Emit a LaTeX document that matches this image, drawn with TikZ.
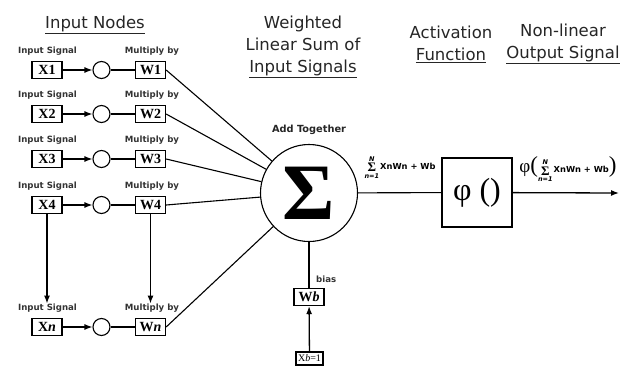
\documentclass[tikz,border=0pt]{standalone}
\usepackage{fontspec}
\setmainfont{Liberation Serif}
\setsansfont{DejaVu Sans}
\usetikzlibrary{positioning,arrows.meta}
\newcommand{\sumst}{{\renewcommand{\arraystretch}{0.6}\begin{tabular}{@{}c@{}}\textit{N}\\[0.6pt]{\rmfamily\bfseries\fontsize{13}{13}\selectfont Σ}\\[0.6pt]\textit{n=1}\end{tabular}}}

\begin{document}
\begin{tikzpicture}[x=1pt, y=-1pt,
  inbox/.style={draw, line width=1.3pt, minimum width=30pt, minimum height=17pt, inner sep=0pt, font=\bfseries\fontsize{14}{14}\selectfont},
  dot/.style={draw, line width=1.1pt, circle, minimum size=17pt, inner sep=0pt},
  lab/.style={font=\sffamily\bfseries\fontsize{8.6}{9}\selectfont, text=black!80, inner sep=0pt},
  ttl/.style={font=\sffamily\fontsize{16.5}{22}\selectfont, text=black!85, align=center, inner sep=0pt},
  eq/.style={font=\sffamily\bfseries\fontsize{6.5}{7}\selectfont, inner sep=0pt},
  arr/.style={-{Latex[length=8pt,width=6pt]}, line width=1.3pt},
  con/.style={line width=1.1pt}]
\path[use as bounding box, fill=white] (0,0) rectangle (621,372);
% titles
\node[ttl] (tin) at (95,25) {\underline{Input Nodes}};
\node[ttl] (tsum) at (303,47) {Weighted\\Linear Sum of\\\underline{Input Signals}};
\node[ttl] (tact) at (451,44) {Activation\\\underline{Function}};
\node[ttl] (tout) at (563,44) {Non-linear\\\underline{Output Signal}};
% input rows
\node[inbox] (x1) at (47,70) {X1}; \node[dot] (c1) at (101.5,70) {}; \node[inbox] (w1) at (150.5,70) {W1};
\node[inbox] (x2) at (47,114) {X2}; \node[dot] (c2) at (101.5,114) {}; \node[inbox] (w2) at (150.5,114) {W2};
\node[inbox] (x3) at (47,159) {X3}; \node[dot] (c3) at (101.5,159) {}; \node[inbox] (w3) at (150.5,159) {W3};
\node[inbox] (x4) at (47,205) {X4}; \node[dot] (c4) at (101.5,205) {}; \node[inbox] (w4) at (150.5,205) {W4};
\node[inbox] (xn) at (47,327) {X\textit{n}}; \node[dot] (cn) at (101.5,327) {}; \node[inbox] (wn) at (150.5,327) {W\textit{n}};
\node[lab] (i1) at (47.5,51) {Input Signal}; \node[lab] (m1) at (152,51) {Multiply by};
\node[lab] (i2) at (47.5,95) {Input Signal}; \node[lab] (m2) at (152,95) {Multiply by};
\node[lab] (i3) at (47.5,140) {Input Signal}; \node[lab] (m3) at (152,140) {Multiply by};
\node[lab] (i4) at (47.5,186) {Input Signal}; \node[lab] (m4) at (152,186) {Multiply by};
\node[lab] (in) at (47.5,308) {Input Signal}; \node[lab] (mn) at (152,308) {Multiply by};
% summing node and bias
\node[draw, circle, line width=1.1pt, minimum size=97pt, inner sep=0pt, font=\bfseries\fontsize{80}{80}\selectfont] (sum) at (309,193) {Σ};
\node[font=\sffamily\bfseries\fontsize{9.8}{10}\selectfont, text=black!85] (add) at (309,130) {Add Together};
\node[inbox] (wb) at (309,297) {W\textit{b}};
\node[draw, line width=1.2pt, minimum width=27pt, minimum height=13pt, inner sep=0pt, font=\fontsize{10}{10}\selectfont] (xb) at (309.5,358.5) {X\textit{b}=1};
\node[lab, anchor=west] (bias) at (316,279) {bias};
% activation
\node[draw, line width=1.3pt, minimum width=70pt, minimum height=69pt, inner sep=0pt, font=\fontsize{32}{32}\selectfont] (act) at (477,192.5) {φ ()};
\coordinate (out) at (619,193);
\node[eq] (s1) at (400,168) {\sumst\,{\fontsize{8.3}{9}\selectfont XnWn + Wb}};
\node[eq] (s2) at (568,170) {{\rmfamily\mdseries\fontsize{19}{19}\selectfont φ\fontsize{23}{23}\selectfont(}\sumst\,{\fontsize{8.3}{9}\selectfont XnWn + Wb}{\rmfamily\mdseries\fontsize{23}{23}\selectfont)}};
% connectors
\draw[arr] (x1) -- (c1); \draw[con] (c1) -- (w1); \draw[con] (w1.east) -- (sum);
\draw[arr] (x2) -- (c2); \draw[con] (c2) -- (w2); \draw[con] (w2.east) -- (sum);
\draw[arr] (x3) -- (c3); \draw[con] (c3) -- (w3); \draw[con] (w3.east) -- (sum);
\draw[arr] (x4) -- (c4); \draw[con] (c4) -- (w4); \draw[con] (w4.east) -- (sum);
\draw[arr] (xn) -- (cn); \draw[con] (cn) -- (wn); \draw[con] (wn.east) -- (sum);
\draw[arr] (x4) -- (in.north -| x4); \draw[arr] (w4) -- (mn.north -| w4);
\draw[con] (wb) -- (sum); \draw[arr] (xb) -- (wb);
\draw[con] (sum) -- (act); \draw[arr] (act) -- (out);
\end{tikzpicture}
\end{document}
